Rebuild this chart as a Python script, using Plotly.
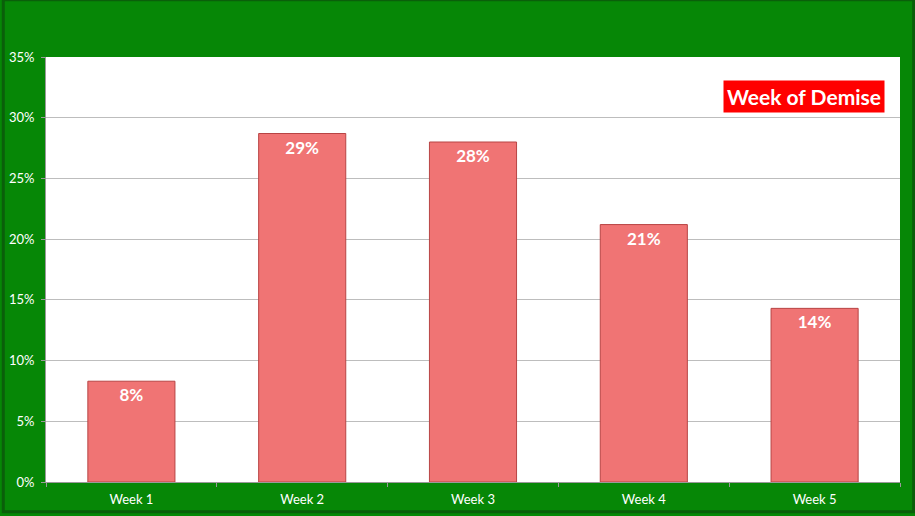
import plotly.graph_objects as go

# 数据
weeks = ["Week 1", "Week 2", "Week 3", "Week 4", "Week 5"]
share = [0.083, 0.287, 0.280, 0.212, 0.143]
y_ticks = [0, 0.05, 0.10, 0.15, 0.20, 0.25, 0.30, 0.35]
y_tick_text = ["0%", "5%", "10%", "15%", "20%", "25%", "30%", "35%"]

GREEN = "#068706"
FONT = "Lato, 'Open Sans', sans-serif"

fig = go.Figure()

fig.add_trace(go.Bar(
    x=weeks,
    y=share,
    marker=dict(
        color="#f07474",
        line=dict(color="#b84444", width=1),
    ),
    width=0.51,
    texttemplate="%{y:.0%}",
    textposition="inside",
    insidetextanchor="end",
    textangle=0,
    textfont=dict(family=FONT, size=17, color="white", weight="bold"),
    hoverinfo="skip",
))

# 标题框
fig.add_annotation(
    text="<b>Week of Demise</b>",
    xref="paper", yref="paper",
    x=0.982, y=0.908,
    xanchor="right", yanchor="middle",
    showarrow=False,
    bgcolor="#ff0000",
    borderpad=3,
    font=dict(family=FONT, size=21, color="white"),
)

fig.update_layout(
    width=915,
    height=516,
    paper_bgcolor=GREEN,
    plot_bgcolor="white",
    margin=dict(l=46, r=15, t=57, b=34),
    showlegend=False,
    font=dict(family=FONT, color="white", size=13),
    xaxis=dict(
        showgrid=False,
        tickson="boundaries",
        ticks="outside",
        ticklen=4,
        tickcolor="#9a9a9a",
        showline=True,
        linecolor="#9a9a9a",
        ticklabelstandoff=5,
        automargin=False,
        tickfont=dict(size=13, color="white"),
    ),
    yaxis=dict(
        range=[0, 0.35],
        tickvals=y_ticks,
        ticktext=y_tick_text,
        gridcolor="#bdbdbd",
        showline=True,
        linecolor="#9a9a9a",
        ticks="outside",
        ticklen=4,
        tickcolor="#9a9a9a",
        ticklabelstandoff=4,
        automargin=False,
        tickfont=dict(size=13, color="white"),
        zeroline=False,
    ),
    shapes=[dict(
        type="rect", xref="paper", yref="paper",
        x0=-0.05, x1=1.016, y0=-0.07, y1=1.135,
        line=dict(color="#0a5f0a", width=3),
        layer="below",
    )],
)

fig.write_html(
    "out.html",
    config={"displayModeBar": False},
    post_script="document.body.style.margin='0';",
)
